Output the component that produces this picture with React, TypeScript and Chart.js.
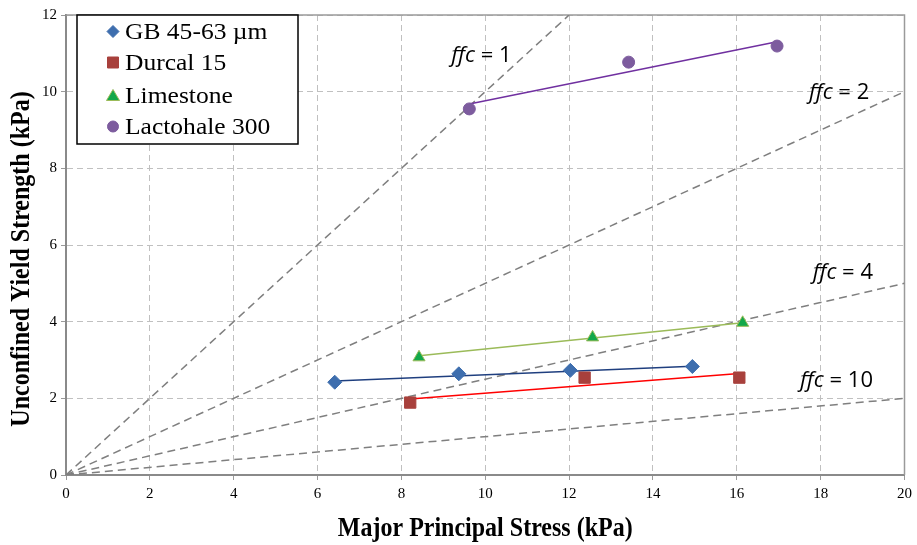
import React, { useEffect, useRef } from "react";
import { Chart, registerables } from "chart.js";

Chart.register(...registerables);

// Measured points
const gbX = [6.41, 9.37, 12.03, 14.94];
const gbY = [2.42, 2.64, 2.73, 2.83];
const durcalX = [8.21, 12.37, 16.06];
const durcalY = [1.89, 2.54, 2.54];
const limeX = [8.42, 12.56, 16.14];
const limeY = [3.07, 3.59, 3.97];
const lactoX = [9.62, 13.42, 16.96];
const lactoY = [9.55, 10.77, 11.19];

// Trend line endpoints
const gbTrendX = [6.41, 14.94];
const gbTrendY = [2.45, 2.84];
const durcalTrendX = [8.21, 16.06];
const durcalTrendY = [1.98, 2.65];
const limeTrendX = [8.42, 16.14];
const limeTrendY = [3.11, 3.97];
const lactoTrendX = [9.62, 16.96];
const lactoTrendY = [9.68, 11.3];

// Flow function lines ffc (y = x / ffc), endpoints
const ffcValues = ["1", "2", "4", "10"];
const ffcEndX = [12, 20, 20, 20];
const ffcEndY = [12, 10, 5, 2];
const ffcLabelX = [9.19, 17.72, 17.81, 17.51];
const ffcLabelY = [10.93, 9.97, 5.27, 2.45];

const xTickStep = 2;
const yTickStep = 2;
const xMax = 20;
const yMax = 12;

const seriesNames = ["GB 45-63 µm", "Durcal 15", "Limestone", "Lactohale 300"];

const pts = (xs: number[], ys: number[]) => xs.map((x, i) => ({ x, y: ys[i] }));

export default function App() {
  const ref = useRef<HTMLCanvasElement>(null);
  useEffect(() => {
    if (!ref.current) return;
    const markerStyles = [
      { style: "rectRot", fill: "#3E6EAE", border: "#3E6EAE", r: 7 },
      { style: "rect", fill: "#A8403C", border: "#A8403C", r: 8 },
      { style: "triangle", fill: "#12A84A", border: "#9BBB59", r: 7 },
      { style: "circle", fill: "#7D5C9E", border: "#7D5C9E", r: 6 },
    ];
    const pointSets = [
      pts(gbX, gbY),
      pts(durcalX, durcalY),
      pts(limeX, limeY),
      pts(lactoX, lactoY),
    ];
    const trendSets = [
      pts(gbTrendX, gbTrendY),
      pts(durcalTrendX, durcalTrendY),
      pts(limeTrendX, limeTrendY),
      pts(lactoTrendX, lactoTrendY),
    ];
    const trendColors = ["#1F3F7F", "#FF0000", "#9BBB59", "#7030A0"];

    const datasets: any[] = [];
    pointSets.forEach((d, i) => {
      const m = markerStyles[i];
      datasets.push({
        label: seriesNames[i],
        data: d,
        showLine: false,
        pointStyle: m.style,
        pointRadius: m.r,
        pointBackgroundColor: m.fill,
        pointBorderColor: m.border,
        pointBorderWidth: 1,
        order: 1,
      });
    });
    trendSets.forEach((d, i) => {
      datasets.push({
        label: "trend" + i,
        data: d,
        showLine: true,
        pointRadius: 0,
        borderColor: trendColors[i],
        borderWidth: 1.5,
        order: 2,
      });
    });
    ffcValues.forEach((v, i) => {
      datasets.push({
        label: "ffc" + v,
        data: [
          { x: 0, y: 0 },
          { x: ffcEndX[i], y: ffcEndY[i] },
        ],
        showLine: true,
        pointRadius: 0,
        borderColor: "#7F7F7F",
        borderWidth: 1.5,
        borderDash: [8, 5],
        order: 3,
      });
    });

    const frame = {
      id: "frame",
      beforeDatasetsDraw(chart: any) {
        const ctx = chart.ctx;
        const a = chart.chartArea;
        ctx.save();
        ctx.strokeStyle = "#9A9A9A";
        ctx.lineWidth = 1.5;
        ctx.beginPath();
        ctx.moveTo(a.left, a.top);
        ctx.lineTo(a.right, a.top);
        ctx.lineTo(a.right, a.bottom);
        ctx.stroke();
        ctx.restore();
      },
    };

    const overlay = {
      id: "overlay",
      afterDraw(chart: any) {
        const ctx = chart.ctx;
        const xs = chart.scales.x;
        const ys = chart.scales.y;
        ctx.save();
        // ffc labels
        ctx.fillStyle = "#000";
        ctx.textBaseline = "middle";
        ffcValues.forEach((v, i) => {
          const px = xs.getPixelForValue(ffcLabelX[i]);
          const py = ys.getPixelForValue(ffcLabelY[i]);
          ctx.font = "italic 22px 'Open Sans', 'Liberation Sans', sans-serif";
          ctx.textAlign = "left";
          const w1 = ctx.measureText("ffc").width;
          ctx.fillText("ffc", px, py);
          ctx.font = "22px 'Open Sans', 'Liberation Sans', sans-serif";
          ctx.fillText(" = " + v, px + w1, py);
        });
        // axis titles
        ctx.font = "bold 24px 'Liberation Serif', 'Times New Roman', serif";
        ctx.textAlign = "center";
        ctx.textBaseline = "middle";
        ctx.save();
        ctx.translate((xs.left + xs.right) / 2, 529);
        ctx.scale(1, 1.12);
        ctx.fillText("Major Principal Stress (kPa)", 0, 0);
        ctx.restore();
        ctx.save();
        ctx.translate(22.5, 259);
        ctx.rotate(-Math.PI / 2);
        ctx.scale(1, 1.12);
        ctx.fillText("Unconfined Yield Strength (kPa)", 0, 0);
        ctx.restore();
        // legend
        const lx = 77, ly = 15, lw = 221, lh = 129;
        ctx.fillStyle = "#fff";
        ctx.fillRect(lx, ly, lw, lh);
        ctx.strokeStyle = "#000";
        ctx.lineWidth = 1.5;
        ctx.strokeRect(lx, ly, lw, lh);
        const rows = [31.5, 62.5, 95.5, 126.5];
        seriesNames.forEach((name, i) => {
          const m = markerStyles[i];
          ctx.fillStyle = m.fill;
          ctx.strokeStyle = m.border;
          ctx.lineWidth = 1;
          const cx = 113, cy = rows[i];
          ctx.beginPath();
          if (m.style === "rectRot") {
            ctx.moveTo(cx, cy - 6);
            ctx.lineTo(cx + 6, cy);
            ctx.lineTo(cx, cy + 6);
            ctx.lineTo(cx - 6, cy);
            ctx.closePath();
          } else if (m.style === "rect") {
            ctx.rect(cx - 5.5, cy - 5.5, 11, 11);
          } else if (m.style === "triangle") {
            ctx.moveTo(cx, cy - 6);
            ctx.lineTo(cx + 6.5, cy + 5);
            ctx.lineTo(cx - 6.5, cy + 5);
            ctx.closePath();
          } else {
            ctx.arc(cx, cy, 5.5, 0, Math.PI * 2);
          }
          ctx.fill();
          ctx.stroke();
          ctx.fillStyle = "#000";
          ctx.font = "23px 'Liberation Serif', 'Times New Roman', serif";
          ctx.textAlign = "left";
          ctx.textBaseline = "middle";
          ctx.save();
          ctx.translate(125, cy + 1);
          ctx.scale(1.11, 1);
          ctx.fillText(name, 0, 0);
          ctx.restore();
        });
        ctx.restore();
      },
    };

    const chart = new Chart(ref.current, {
      type: "scatter",
      data: { datasets },
      options: {
        animation: false,
        responsive: false,
        maintainAspectRatio: false,
        layout: { padding: { top: 15, right: 9, left: 0, bottom: 0 } },
        plugins: { legend: { display: false }, tooltip: { enabled: false } },
        scales: {
          x: {
            type: "linear",
            min: 0,
            max: xMax,
            afterFit: (s: any) => {
              s.height = 70;
            },
            ticks: {
              stepSize: xTickStep,
              color: "#000",
              padding: 5,
              font: { family: "'Liberation Serif', serif", size: 15 },
            },
            grid: {
              color: "#C0C0C0",
              lineWidth: 1,
              tickLength: 5,
              tickColor: "#9A9A9A",
              tickBorderDash: [],
            },
            border: { color: "#8A8A8A", width: 2, dash: [6, 4] },
          },
          y: {
            type: "linear",
            min: 0,
            max: yMax,
            afterFit: (s: any) => {
              s.width = 66;
            },
            ticks: {
              stepSize: yTickStep,
              color: "#000",
              padding: 4,
              font: { family: "'Liberation Serif', serif", size: 15 },
            },
            grid: {
              color: "#C0C0C0",
              lineWidth: 1,
              tickLength: 5,
              tickColor: "#9A9A9A",
              tickBorderDash: [],
            },
            border: { color: "#8A8A8A", width: 2, dash: [6, 4] },
          },
        },
      } as any,
      plugins: [frame, overlay],
    });
    return () => chart.destroy();
  }, []);

  return (
    <div style={{ position: "fixed", left: 0, top: 0, width: 917, height: 545, background: "#fff" }}>
      <canvas ref={ref} width={917} height={545} style={{ width: 917, height: 545 }} />
    </div>
  );
}
